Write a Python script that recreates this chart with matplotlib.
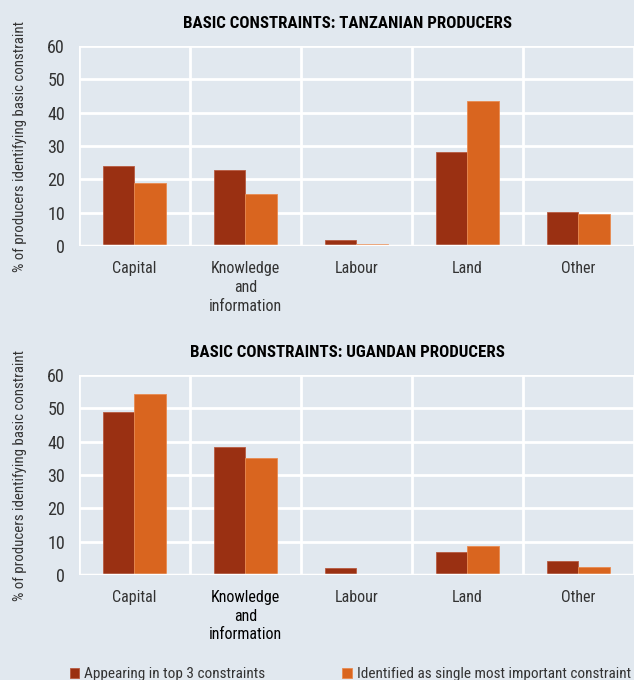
import numpy as np
import matplotlib
matplotlib.use('Agg')
import matplotlib.pyplot as plt
from matplotlib import font_manager
from matplotlib.ticker import MultipleLocator

# pick a narrow face if the system has one
fonts = font_manager.fontManager.ttflist
names = {f.name for f in fonts}
narrow = [n for n in ['Liberation Sans Narrow', 'Roboto Condensed', 'Open Sans Condensed',
                      'Noto Sans Condensed', 'DejaVu Sans Condensed'] if n in names]
if narrow:
    plt.rcParams['font.family'] = [narrow[0], 'DejaVu Sans']
else:
    plt.rcParams['font.family'] = ['DejaVu Sans']
    plt.rcParams['font.stretch'] = 'condensed'

categories = ['Capital', 'Knowledge\nand\ninformation', 'Labour', 'Land', 'Other']
tz_top3 = [24.0, 22.8, 1.8, 28.1, 10.2]
tz_single = [19.0, 15.6, 0.7, 43.6, 9.5]
ug_top3 = [49.0, 38.3, 2.1, 6.8, 4.2]
ug_single = [54.3, 35.1, 0.0, 8.6, 2.5]
series_labels = ['Appearing in top 3 constraints',
                 'Identified as single most important constraint']

BG = '#e1e8ef'
DARK = '#9a3012'
LIGHT = '#d9651f'
TXT = '#333333'

fig = plt.figure(figsize=(6.34, 6.8), dpi=100, facecolor=BG)
ax1 = fig.add_axes([0.1246, 0.6382, 0.8754, 0.2941])
ax2 = fig.add_axes([0.1246, 0.1544, 0.8754, 0.2941])

x = np.arange(len(categories))
w = 0.285


def draw(ax, a, b, title):
    ax.set_facecolor(BG)
    b1 = ax.bar(x - w / 2, a, w, color=DARK, edgecolor='#b85a40', linewidth=0.6, zorder=3)
    b2 = ax.bar(x + w / 2, b, w, color=LIGHT, edgecolor='#e88a50', linewidth=0.6, zorder=3)
    ax.set_xlim(-0.5, 4.5)
    ax.set_ylim(0, 60)
    ax.yaxis.set_major_locator(MultipleLocator(10))
    ax.set_xticks(x)
    ax.set_xticklabels(categories, fontsize=11.5, color=TXT, linespacing=1.3)
    ax.set_xticks(np.arange(-0.5, 5, 1), minor=True)
    ax.grid(True, which='minor', axis='x', color='white', lw=2, zorder=1)
    ax.grid(True, which='major', axis='y', color='white', lw=2, zorder=1)
    ax.tick_params(axis='both', which='both', length=0)
    ax.tick_params(axis='x', pad=11)
    ax.tick_params(axis='y', labelsize=13, labelcolor=TXT, pad=10)
    for s in ax.spines.values():
        s.set_visible(False)
    ax.axhline(0, color='white', lw=2.5, zorder=4)
    ax.set_ylabel('% of producers identifying basic constraint', fontsize=10.7, color=TXT)
    ax.yaxis.set_label_coords(-0.094, 0.5)
    ax.set_title(title, fontsize=12.2, fontweight='bold', color='black', pad=13, x=0.484)
    return b1, b2


h1, h2 = draw(ax1, tz_top3, tz_single, 'BASIC CONSTRAINTS: TANZANIAN PRODUCERS')
draw(ax2, ug_top3, ug_single, 'BASIC CONSTRAINTS: UGANDAN PRODUCERS')
ax2.get_xticklabels()[1].set_color('black')

fig.legend([h1], [series_labels[0]], loc='lower left', bbox_to_anchor=(0.088, -0.022),
           frameon=False, fontsize=11, handlelength=0.65, handleheight=0.65,
           handletextpad=0.3, labelcolor=TXT)
fig.legend([h2], [series_labels[1]], loc='lower left', bbox_to_anchor=(0.518, -0.022),
           frameon=False, fontsize=11, handlelength=0.65, handleheight=0.65,
           handletextpad=0.3, labelcolor=TXT)

fig.savefig('out.png', dpi=100, facecolor=BG)
